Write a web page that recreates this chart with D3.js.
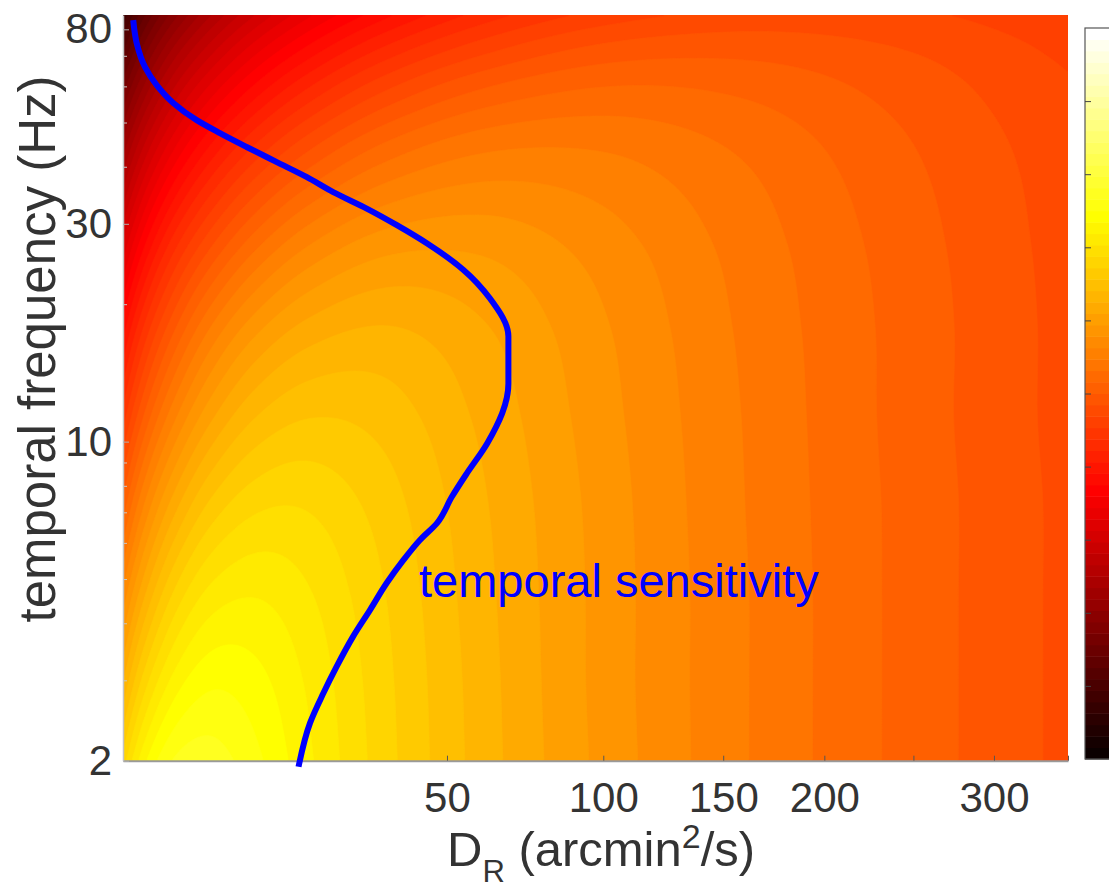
<!DOCTYPE html>
<html>
<head>
<meta charset="utf-8">
<script src="https://cdn.jsdelivr.net/npm/d3@7"></script>
<style>
  html, body { margin: 0; padding: 0; background: #ffffff; }
  svg { display: block; }
  text { font-family: "Liberation Sans", Arial, Helvetica, sans-serif; }
</style>
</head>
<body>
<svg id="chart" width="1109" height="891"></svg>
<script>
// ---- data -----------------------------------------------------------
// diffusion constants of the grid columns (arcmin^2/s)
const gridD = [1, 2, 4, 7, 12, 20, 35, 60, 100, 160, 250, 350];
// temporal frequencies of the grid rows (Hz)
const gridF = [2, 3, 4.6, 7.2, 11.4, 17.7, 27.3, 42.4, 58.6, 72.8, 86];
// normalised power in colour-bar units, one row per frequency
const power = [
  [0.678, 0.732, 0.769, 0.774, 0.755, 0.722, 0.678, 0.633, 0.589, 0.548, 0.509, 0.480],
  [0.623, 0.680, 0.726, 0.746, 0.740, 0.716, 0.676, 0.632, 0.588, 0.548, 0.509, 0.480],
  [0.567, 0.625, 0.678, 0.709, 0.718, 0.705, 0.672, 0.630, 0.588, 0.548, 0.509, 0.480],
  [0.506, 0.566, 0.622, 0.661, 0.684, 0.686, 0.664, 0.627, 0.587, 0.547, 0.509, 0.480],
  [0.443, 0.503, 0.561, 0.605, 0.639, 0.655, 0.649, 0.621, 0.584, 0.546, 0.508, 0.479],
  [0.382, 0.442, 0.501, 0.548, 0.588, 0.615, 0.626, 0.611, 0.580, 0.544, 0.508, 0.479],
  [0.312, 0.373, 0.433, 0.480, 0.524, 0.560, 0.586, 0.589, 0.570, 0.540, 0.506, 0.478],
  [0.232, 0.293, 0.353, 0.401, 0.447, 0.488, 0.526, 0.548, 0.548, 0.530, 0.501, 0.476],
  [0.167, 0.227, 0.288, 0.336, 0.382, 0.425, 0.469, 0.502, 0.518, 0.513, 0.493, 0.471],
  [0.119, 0.179, 0.240, 0.288, 0.335, 0.378, 0.424, 0.462, 0.488, 0.494, 0.483, 0.465],
  [0.080, 0.140, 0.200, 0.249, 0.296, 0.340, 0.386, 0.428, 0.459, 0.474, 0.471, 0.458]
];

// temporal sensitivity curve
const sensD = [1.42, 1.58, 1.99, 2.66, 3.77, 5.67, 7.93, 11.0, 15.0, 19.7, 24.4, 31.0, 37.6, 44.8,
               54.4, 62.0, 67.6, 67.6, 61.3, 55.4, 51.3, 47.4, 43.1, 39.1, 35.3, 31.7, 28.2, 25.0,
               22.6, 20.3, 18.4];
const sensF = [83.8, 74.6, 66.2, 60.4, 55.2, 50.6, 47.4, 44.2, 41.0, 38.0, 35.2, 32.4, 29.8, 27.2,
               23.8, 20.6, 17.0, 13.4, 9.93, 8.52, 7.57, 6.63, 6.09, 5.50, 4.90, 4.28, 3.74, 3.21,
               2.81, 2.42, 1.94];

// axis ticks
const xTickValues = [50, 100, 150, 200, 250, 300, 350];
const xTickLabels = ["50", "100", "150", "200", "", "300", ""];
const yTickValues = [2, 10, 30, 80];
const yTickLabels = ["2", "10", "30", "80"];
const yMinorTicks = [3, 4, 5, 6, 7, 8, 9, 20, 40, 50, 60, 70];
const colorbarTicks = [0.1, 0.2, 0.3, 0.4, 0.5, 0.6, 0.7, 0.8, 0.9];
const nLevels = 64;

// ---- layout ---------------------------------------------------------
const plot = { left: 123, right: 1068, top: 15, bottom: 760.7 };
const cbar = { left: 1085, right: 1125, top: 28, bottom: 759 };

const svg = d3.select("#chart");

const x = d3.scaleSqrt().domain([1, 350]).range([plot.left, plot.right]);
const y = d3.scaleLog().domain([2, 86]).range([plot.bottom, plot.top]);
const cb = d3.scaleLinear().domain([0, 1]).range([cbar.bottom, cbar.top]);

// MATLAB-style "hot" colour map with nLevels entries
function hot(k) {
  const i = k + 1;
  const n1 = nLevels * 3 / 8, n3 = nLevels / 4;
  const r = Math.min(i / n1, 1);
  const g = Math.max(0, Math.min((i - n1) / n1, 1));
  const b = Math.max(0, Math.min((i - 2 * n1) / n3, 1));
  return d3.rgb(r * 255, g * 255, b * 255).formatHex();
}

// piecewise cubic Hermite through tabulated nodes
function cubicAt(xs, ys, v) {
  const n = xs.length;
  if (v <= xs[0]) return ys[0];
  if (v >= xs[n - 1]) return ys[n - 1];
  let i = Math.min(d3.bisectRight(xs, v) - 1, n - 2);
  const h = xs[i + 1] - xs[i], t = (v - xs[i]) / h;
  const slope = k => k === 0 ? (ys[1] - ys[0]) / (xs[1] - xs[0])
    : k === n - 1 ? (ys[n - 1] - ys[n - 2]) / (xs[n - 1] - xs[n - 2])
    : (ys[k + 1] - ys[k - 1]) / (xs[k + 1] - xs[k - 1]);
  const m0 = slope(i) * h, m1 = slope(i + 1) * h;
  const t2 = t * t, t3 = t2 * t;
  return (2 * t3 - 3 * t2 + 1) * ys[i] + (t3 - 2 * t2 + t) * m0
       + (-2 * t3 + 3 * t2) * ys[i + 1] + (t3 - t2) * m1;
}

// ---- filled contour map ---------------------------------------------
const step = 2.5;
const nx = Math.round((plot.right - plot.left) / step);
const ny = Math.round((plot.bottom - plot.top) / step);
const sx = (plot.right - plot.left) / nx, sy = (plot.bottom - plot.top) / ny;
const lnD = gridD.map(Math.log), lnF = gridF.map(Math.log);

const values = new Float64Array(nx * ny);
for (let i = 0; i < nx; i++) {
  const ld = Math.log(x.invert(plot.left + (i + 0.5) * sx));
  const col = power.map(row => cubicAt(lnD, row, ld));
  for (let j = 0; j < ny; j++) {
    const lf = Math.log(y.invert(plot.top + (j + 0.5) * sy));
    values[j * nx + i] = cubicAt(lnF, col, lf);
  }
}

const thresholds = d3.range(nLevels).map(k => k / nLevels);
const bands = d3.contours().size([nx, ny]).thresholds(thresholds)(values);
const toPixels = d3.geoTransform({
  point(px, py) { this.stream.point(plot.left + px * sx, plot.top + py * sy); }
});
const contourPath = d3.geoPath(toPixels);

svg.append("defs").append("clipPath").attr("id", "plotClip")
  .append("rect")
  .attr("x", plot.left).attr("y", plot.top)
  .attr("width", plot.right - plot.left).attr("height", plot.bottom - plot.top);

svg.append("g").attr("clip-path", "url(#plotClip)")
  .selectAll("path")
  .data(bands)
  .join("path")
  .attr("d", contourPath)
  .attr("fill", d => hot(Math.round(d.value * nLevels)))
  .attr("stroke", d => hot(Math.round(d.value * nLevels)))
  .attr("stroke-width", 0.6);

// ---- axes -----------------------------------------------------------
const xAxis = d3.axisBottom(x)
  .tickValues(xTickValues)
  .tickFormat((d, i) => xTickLabels[i])
  .tickSizeInner(-5).tickSizeOuter(0).tickPadding(21);
const gx = svg.append("g").attr("transform", `translate(0,${plot.bottom})`).call(xAxis);
gx.select(".domain").attr("stroke", "#9a9a9a").attr("stroke-width", 2);
gx.selectAll(".tick line").attr("stroke", "#555").attr("stroke-width", 1);
gx.selectAll(".tick text").attr("font-size", 42).attr("fill", "#333")
  .attr("font-family", "'Liberation Sans', Arial, sans-serif");

const yMinor = d3.axisLeft(y).tickValues(yMinorTicks).tickFormat(() => "")
  .tickSizeInner(-4).tickSizeOuter(0);
const gyMinor = svg.append("g").attr("transform", `translate(${plot.left},0)`).call(yMinor);
gyMinor.select(".domain").remove();
gyMinor.selectAll(".tick line").attr("stroke", "#c8c8c8");

const yAxis = d3.axisLeft(y)
  .tickValues(yTickValues)
  .tickFormat((d, i) => yTickLabels[i])
  .tickSizeInner(-6).tickSizeOuter(0).tickPadding(11);
const gy = svg.append("g").attr("transform", `translate(${plot.left},0)`).call(yAxis);
gy.select(".domain").attr("stroke", "#c4c4c4").attr("stroke-width", 1.5);
gy.selectAll(".tick line").attr("stroke", "#b0b0b0");
gy.selectAll(".tick text").attr("font-size", 42).attr("fill", "#333")
  .attr("font-family", "'Liberation Sans', Arial, sans-serif");

// axis titles
svg.append("text")
  .attr("transform", "translate(55,349) rotate(-90)")
  .attr("text-anchor", "middle")
  .attr("font-size", 51).attr("fill", "#333")
  .text("temporal frequency (Hz)");

const xTitle = svg.append("text")
  .attr("x", 447).attr("y", 866)
  .attr("font-size", 49).attr("fill", "#333");
xTitle.append("tspan").text("D");
xTitle.append("tspan").attr("font-size", 31).attr("dy", 16).text("R");
xTitle.append("tspan").attr("dy", -16).text(" (arcmin");
xTitle.append("tspan").attr("font-size", 34).attr("dy", -18).text("2");
xTitle.append("tspan").attr("dy", 18).text("/s)");

// ---- temporal sensitivity curve -------------------------------------
const sens = sensD.map((d, i) => ({ D: d, f: sensF[i] }));
svg.append("path")
  .datum(sens)
  .attr("fill", "none")
  .attr("stroke", "#0000ff")
  .attr("stroke-width", 6)
  .attr("d", d3.line().curve(d3.curveMonotoneY).x(d => x(d.D)).y(d => y(d.f)));

svg.append("text")
  .attr("x", 419).attr("y", 597)
  .attr("font-size", 47).attr("fill", "#0000ff")
  .text("temporal sensitivity");

// ---- colour bar -----------------------------------------------------
const gcb = svg.append("g");
gcb.selectAll("rect")
  .data(d3.range(nLevels))
  .join("rect")
  .attr("x", cbar.left)
  .attr("y", k => cb((k + 1) / nLevels))
  .attr("width", cbar.right - cbar.left)
  .attr("height", k => cb(k / nLevels) - cb((k + 1) / nLevels) + 0.5)
  .attr("fill", k => hot(k));
gcb.append("rect")
  .attr("x", cbar.left).attr("y", cbar.top)
  .attr("width", cbar.right - cbar.left).attr("height", cbar.bottom - cbar.top)
  .attr("fill", "none").attr("stroke", "#555").attr("stroke-width", 1.2);
const cbAxis = d3.axisLeft(cb).tickValues(colorbarTicks).tickFormat(() => "")
  .tickSizeInner(-6).tickSizeOuter(0);
const gcbAxis = gcb.append("g").attr("transform", `translate(${cbar.left},0)`).call(cbAxis);
gcbAxis.select(".domain").remove();
gcbAxis.selectAll(".tick line").attr("stroke", "#444");
</script>
</body>
</html>
